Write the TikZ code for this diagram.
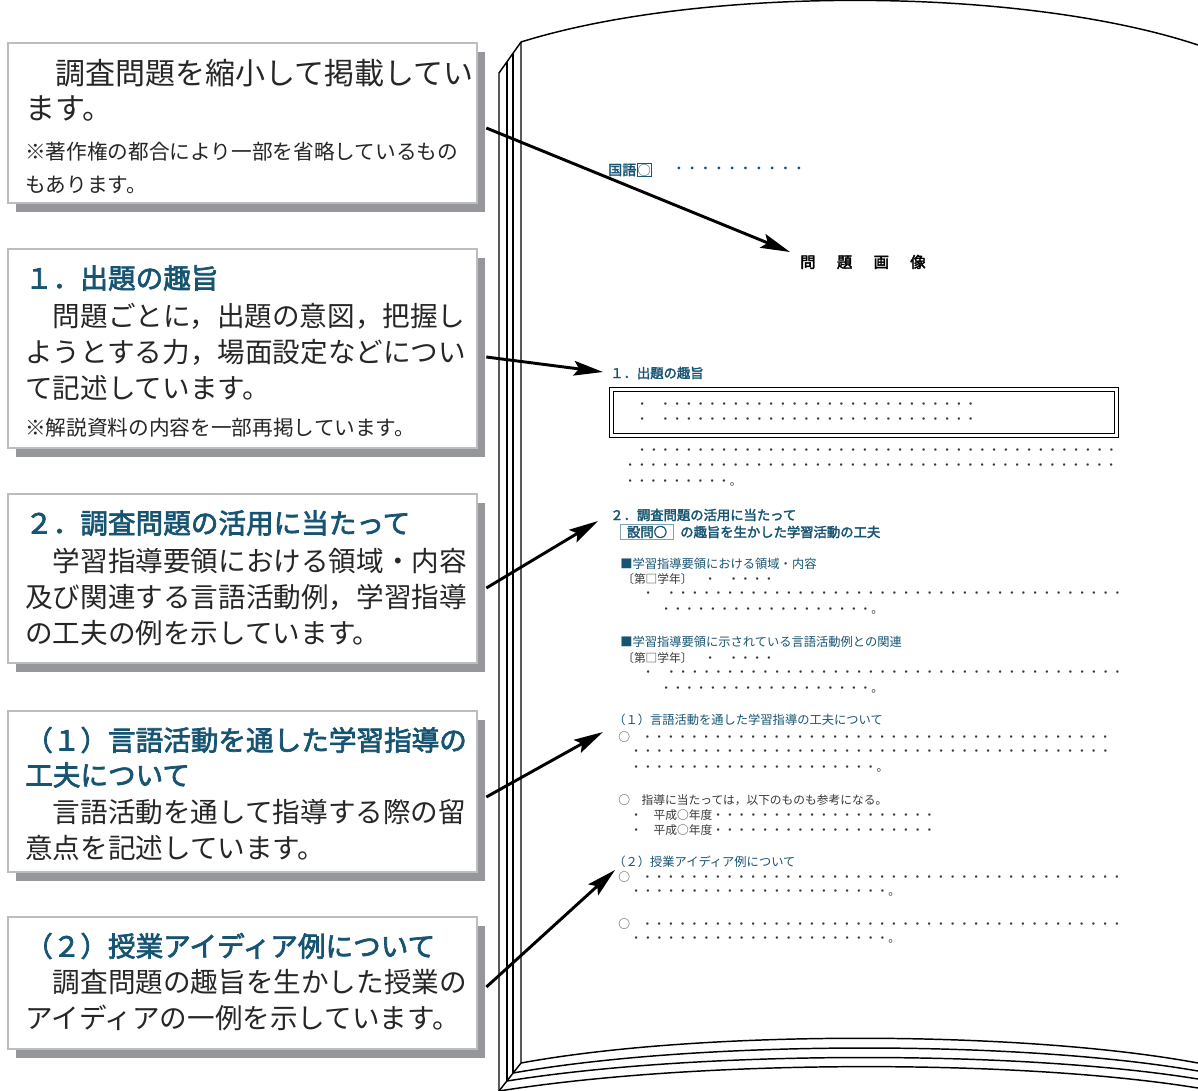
\documentclass[tikz,border=0pt]{standalone}
\usepackage{fontspec}
\newfontfamily\jp{Noto Sans CJK JP}
\newfontfamily\jpm{Noto Sans CJK JP}[FakeBold=2.5]
\usetikzlibrary{arrows.meta,fit}
\definecolor{hblue}{RGB}{22,84,114}
\definecolor{bgray}{RGB}{188,189,193}
\definecolor{sgray}{RGB}{150,151,155}
\definecolor{ptxt}{RGB}{55,55,55}
\newcommand\ndots[1]{\foreach\k in {1,...,#1}{・}}
\begin{document}
\begin{tikzpicture}[x=0.75pt,y=-0.75pt,
  infobox/.style={draw=bgray, line width=2pt, fill=white, inner sep=0pt},
  btext/.style={anchor=west, inner sep=0pt, text=black!85, font=\jp\fontsize{20.7}{25}\selectfont},
  bbig/.style={btext, font=\jp\fontsize{22.5}{27}\selectfont},
  bnote/.style={btext, font=\jp\fontsize{15.5}{19}\selectfont},
  bhead/.style={btext, text=hblue, font=\jpm\fontsize{20.7}{25}\selectfont},
  arr/.style={line width=2.2pt, -{Stealth[length=22pt,width=11pt,inset=4pt]}},
  pagel/.style={line width=1.1pt},
  ptext/.style={anchor=west, inner sep=0pt, text=ptxt, font=\jp\fontsize{8.8}{10}\selectfont},
  phead/.style={anchor=west, inner sep=0pt, text=hblue, font=\jp\fontsize{9.2}{11}\selectfont},
  pheadb/.style={anchor=west, inner sep=0pt, text=hblue, font=\jpm\fontsize{10}{12}\selectfont},
]
\useasboundingbox (0,0) rectangle (1198,1090);
\clip (0,0) rectangle (1198,1090);

% ---- book ----
\draw[pagel] (499,1091) -- (499,73) -- (521,42);
\draw[pagel] (507,1081) -- (507,61.7);
\draw[pagel] (513,1073) -- (513,53.3);
\draw[pagel] (521,42) -- (521,1063) -- (499,1091);
\draw[pagel] (521,42) .. controls (700,-14) and (1020,-14) .. (1198,45);
\draw[pagel] (521,1063) .. controls (700,1030) and (1020,1030) .. (1198,1063);
\draw[pagel] (513,1073) .. controls (700,1040) and (1020,1040) .. (1198,1071);
\draw[pagel] (507,1081) .. controls (700,1050) and (1020,1050) .. (1198,1079);
\draw[pagel] (499,1091) .. controls (700,1059) and (1020,1059) .. (1198,1088);

% ---- left boxes ----
\fill[sgray] (16,52) rectangle (485,212);
\node[infobox, fit={(8,43) (477,203)}] (b1) {};
\fill[sgray] (16,258) rectangle (485,457);
\node[infobox, fit={(8,249) (477,448)}] (b2) {};
\fill[sgray] (16,503) rectangle (485,672);
\node[infobox, fit={(8,494) (477,663)}] (b3) {};
\fill[sgray] (16,720) rectangle (485,881);
\node[infobox, fit={(8,711) (477,872)}] (b4) {};
\fill[sgray] (16,926) rectangle (485,1058);
\node[infobox, fit={(8,917) (477,1049)}] (b5) {};

\node[bbig] (t11) at (25,73) {　調査問題を縮小して掲載してい};
\node[bbig] (t12) at (25,108) {ます。};
\node[bnote] (t13) at (25,152) {※著作権の都合により一部を省略しているもの};
\node[bnote] (t14) at (25,185) {もあります。};

\node[bhead] (t21) at (25,278) {１．出題の趣旨};
\node[btext] (t22) at (25,316) {　問題ごとに，出題の意図，把握し};
\node[btext] (t23) at (25,352) {ようとする力，場面設定などについ};
\node[btext] (t24) at (25,388) {て記述しています。};
\node[bnote] (t25) at (25,428) {※解説資料の内容を一部再掲しています。};

\node[bhead] (t31) at (25,523) {２．調査問題の活用に当たって};
\node[btext] (t32) at (25,561) {　学習指導要領における領域・内容};
\node[btext] (t33) at (25,597) {及び関連する言語活動例，学習指導};
\node[btext] (t34) at (25,633) {の工夫の例を示しています。};

\node[bhead] (t41) at (25,740) {（１）言語活動を通した学習指導の};
\node[bhead] (t42) at (25,775) {工夫について};
\node[btext] (t43) at (25,812) {　言語活動を通して指導する際の留};
\node[btext] (t44) at (25,848) {意点を記述しています。};

\node[bhead] (t51) at (25,946) {（２）授業アイディア例について};
\node[btext] (t52) at (25,982) {　調査問題の趣旨を生かした授業の};
\node[btext] (t53) at (25,1018) {アイディアの一例を示しています。};

% ---- page contents ----
\node[pheadb, font=\jpm\fontsize{10.5}{12}\selectfont] (kokugo) at (608,170) {国語};
\node[pheadb, font=\jp\fontsize{10}{12}\selectfont, draw=hblue, line width=0.5pt, inner sep=0.6pt, anchor=west] (maru) at (kokugo.east) {○};
\node[pheadb, font=\jp\fontsize{10}{12}\selectfont] (kdots) at (672,170) {\ndots{10}};
\node[anchor=west, inner sep=0pt, font=\jpm\fontsize{11.5}{13}\selectfont] (mondai) at (800,262) {問\kern16pt 題\kern16pt 画\kern16pt 像};

\node[pheadb] (p1) at (610,373) {１．出題の趣旨};
\draw[line width=0.6pt, double=white, double distance=2pt] (611.5,389.5) rectangle (1116.5,435.5);
\node[ptext] (r1) at (636,406) {・　\ndots{27}};
\node[ptext] (r2) at (636,421) {・　\ndots{27}};
\node[ptext] (r3) at (636,452) {\ndots{41}};
\node[ptext] (r4) at (624,467) {\ndots{42}};
\node[ptext] (r5) at (624,483) {\ndots{9}。};

\node[pheadb] (p2) at (610,515) {２．調査問題の活用に当たって};
\node[pheadb, draw=hblue!55, line width=0.6pt, inner xsep=5pt, inner ysep=1pt] (setsumon) at (620,532) {設問○};
\node[pheadb] (p2b) at (680,532) {の趣旨を生かした学習活動の工夫};

\node[phead] (s1) at (620,564) {■学習指導要領における領域・内容};
\node[ptext] (r6) at (622,579) {〔第□学年〕　・　・・・・};
\node[ptext] (r7) at (642,595) {・　\ndots{39}};
\node[ptext] (r8) at (660,611) {\ndots{18}。};
\node[phead] (s2) at (620,642) {■学習指導要領に示されている言語活動例との関連};
\node[ptext] (r9) at (622,658) {〔第□学年〕　・　・・・・};
\node[ptext] (r10) at (642,674) {・　\ndots{39}};
\node[ptext] (r11) at (660,690) {\ndots{18}。};

\node[phead] (p3) at (613,720) {（１）言語活動を通した学習指導の工夫について};
\node[ptext] (r12) at (618,737) {○　\ndots{40}};
\node[ptext] (r13) at (630,753) {\ndots{41}};
\node[ptext] (r14) at (630,769) {\ndots{21}。};
\node[ptext] (r15) at (618,800) {○　指導に当たっては，以下のものも参考になる。};
\node[ptext] (r16) at (630,815) {・　平成○年度\ndots{19}};
\node[ptext] (r17) at (630,830) {・　平成○年度\ndots{19}};

\node[phead] (p4) at (613,862) {（２）授業アイディア例について};
\node[ptext] (r18) at (618,877) {○　\ndots{41}};
\node[ptext] (r19) at (630,893) {\ndots{22}。};
\node[ptext] (r20) at (618,924) {○　\ndots{41}};
\node[ptext] (r21) at (630,940) {\ndots{22}。};

% ---- arrows ----
\coordinate (tip1) at ([shift={(-10,-10)}]mondai.west);
\coordinate (tip2) at ([shift={(-7,-1)}]p1.west);
\coordinate (tip3) at ([shift={(-12,6)}]p2.west);
\coordinate (tip4) at ([shift={(-10,12)}]p3.west);
\coordinate (tip5) at ([shift={(2,8)}]p4.west);
\draw[arr] ([shift={(8,5)}]b1.east) -- (tip1);
\draw[arr] ([shift={(8,8.5)}]b2.east) -- (tip2);
\draw[arr] ([shift={(8,9.5)}]b3.east) -- (tip3);
\draw[arr] ([shift={(8,5.5)}]b4.east) -- (tip4);
\draw[arr] ([shift={(8,4)}]b5.east) -- (tip5);
\end{tikzpicture}
\end{document}
